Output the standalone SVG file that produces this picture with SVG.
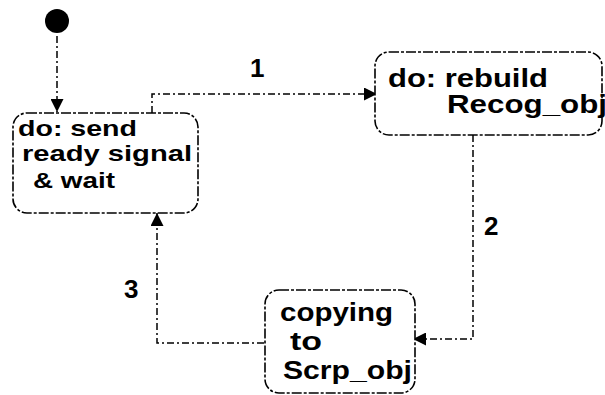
<svg xmlns="http://www.w3.org/2000/svg" width="605" height="395" viewBox="0 0 605 395">
<style>
.node{fill:#fff;stroke:#000;stroke-width:1.6;stroke-dasharray:10 2 3 2}
.conn{fill:none;stroke:#000;stroke-width:1.5;stroke-dasharray:7 3 2 3}
text{font-family:"Liberation Sans",Arial,sans-serif;font-weight:bold;fill:#000}
.t1{font-size:22px}
.t2{font-size:26px}
.t3{font-size:25.5px}
.lbl{font-size:26px}
</style>
<defs>
<marker id="arr" viewBox="0 0 10 10" refX="10" refY="5" markerUnits="userSpaceOnUse" markerWidth="15" markerHeight="13" orient="auto">
<path d="M0,0 L10,5 L0,10 z" fill="#000"/>
</marker>
</defs>
<g id="initial">
<circle cx="57" cy="21" r="12" fill="#000"/>
</g>
<g id="connectors">
<path class="conn" d="M57,36 V112" marker-end="url(#arr)"/>
<path class="conn" d="M152,113 V94 H377" marker-end="url(#arr)"/>
<path class="conn" d="M473,135 V339 H413" marker-end="url(#arr)"/>
<path class="conn" d="M264,343 H157 V213" marker-end="url(#arr)"/>
<text class="lbl" x="250" y="77">1</text>
<text class="lbl" x="484" y="235">2</text>
<text class="lbl" x="124" y="298">3</text>
</g>
<g id="node-send">
<rect class="node" x="13" y="113" width="185" height="100" rx="14"/>
<text class="t1"><tspan x="18" y="136" textLength="119" lengthAdjust="spacingAndGlyphs">do: send</tspan><tspan x="22" y="161" textLength="170" lengthAdjust="spacingAndGlyphs">ready signal</tspan><tspan x="33" y="188" textLength="82" lengthAdjust="spacingAndGlyphs">&amp; wait</tspan></text>
</g>
<g id="node-rebuild">
<rect class="node" x="375" y="52" width="227" height="83" rx="14"/>
<text class="t2"><tspan x="388" y="87" textLength="160" lengthAdjust="spacingAndGlyphs">do: rebuild</tspan><tspan x="447" y="113" textLength="160" lengthAdjust="spacingAndGlyphs">Recog_obj</tspan></text>
</g>
<g id="node-copy">
<rect class="node" x="265" y="290" width="150" height="103" rx="14"/>
<text class="t3"><tspan x="280" y="321" textLength="113" lengthAdjust="spacingAndGlyphs">copying</tspan><tspan x="290" y="350" textLength="32" lengthAdjust="spacingAndGlyphs">to</tspan><tspan x="283" y="379" textLength="129" lengthAdjust="spacingAndGlyphs">Scrp_obj</tspan></text>
</g>
</svg>
